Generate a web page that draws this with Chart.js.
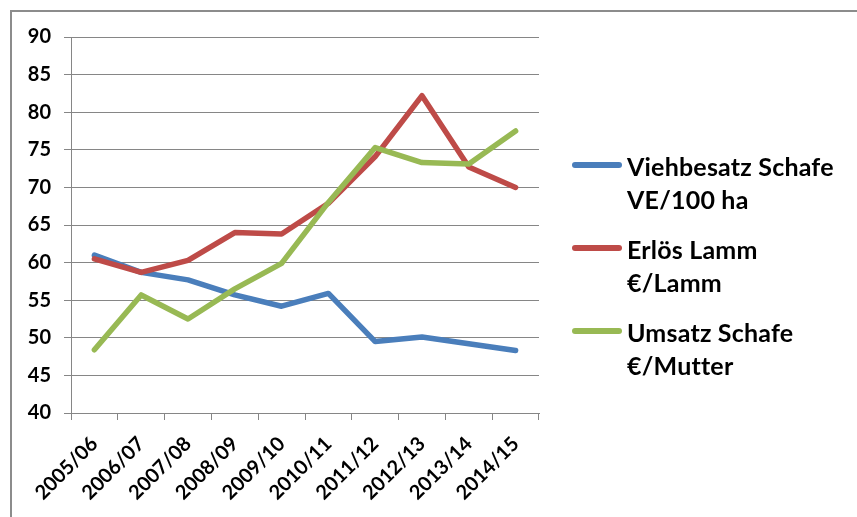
<!DOCTYPE html>
<html>
<head>
<meta charset="utf-8">
<script src="https://cdn.jsdelivr.net/npm/chart.js@4"></script>
<style>
body{margin:0;background:#fff;overflow:hidden;}
#frame{position:absolute;left:10px;top:10px;width:900px;height:600px;border-top:2px solid #8c8c8c;border-left:2px solid #8c8c8c;}
#wrap{position:absolute;left:0;top:0;width:857px;height:517px;}
#legend{position:absolute;left:572px;top:150px;}
.item{position:relative;height:83px;}
.swatch{position:absolute;left:0;top:12px;width:50px;height:6px;border-radius:3px;}
.txt{position:absolute;left:55px;top:0;white-space:nowrap;font:bold 25px Lato, sans-serif;letter-spacing:0.2px;line-height:33px;color:#000;}
</style>
</head>
<body>
<div id="frame"></div>
<div id="wrap"><canvas id="myChart" width="857" height="517"></canvas></div>
<div id="legend"></div>
<script>
// x categories (years)
const categories = ["2005/06", "2006/07", "2007/08", "2008/09", "2009/10", "2010/11", "2011/12", "2012/13", "2013/14", "2014/15"];
// series values
const viehbesatz = [61.0, 58.7, 57.7, 55.7, 54.2, 55.9, 49.5, 50.1, 49.2, 48.3];
const erloes = [60.5, 58.7, 60.3, 64.0, 63.8, 67.9, 74.1, 82.2, 72.7, 70.0];
const umsatz = [48.4, 55.7, 52.5, 56.5, 59.9, 68.0, 75.3, 73.3, 73.1, 77.5];
// legend names, two lines each
const seriesNames = [["Viehbesatz Schafe", "VE/100 ha"], ["Erlös Lamm", "€/Lamm"], ["Umsatz Schafe", "€/Mutter"]];
const colors = ["#4a7ebb", "#be4b48", "#98b954"];
// y axis
const yMin = 40, yMax = 90, yStep = 5;

const gridColor = "#868686";
const tickFont = { family: "Lato", weight: "bold", size: 20 };

function makeSet(i, values) {
	return {
		label: seriesNames[i].join(" "),
		data: values,
		borderColor: colors[i],
		backgroundColor: colors[i],
		borderWidth: 5.5,
		pointRadius: 0,
		tension: 0,
		borderCapStyle: "round",
		borderJoinStyle: "round",
		order: 3 - i, // last series on top, like excel
	};
}

let ctx = document.getElementById("myChart").getContext("2d");
var myChart = new Chart(ctx, {
	type: "line",
	data: {
		labels: categories,
		datasets: [makeSet(0, viehbesatz), makeSet(1, erloes), makeSet(2, umsatz)],
	},
	options: {
		responsive: false,
		animation: false,
		layout: { padding: { top: 37, right: 318, left: 0, bottom: 0 } },
		plugins: { legend: { display: false }, tooltip: { enabled: false } },
		scales: {
			x: {
				offset: true,
				grid: { offset: true, drawOnChartArea: false, tickLength: 7, color: gridColor },
				border: { color: gridColor },
				ticks: { maxRotation: 45, minRotation: 45, font: tickFont, color: "#000", padding: 12 },
				afterFit: (s) => { s.height = 104; },
			},
			y: {
				min: yMin,
				max: yMax,
				grid: { tickLength: 7, color: gridColor },
				border: { color: gridColor },
				ticks: { stepSize: yStep, font: tickFont, color: "#000", padding: 13 },
				afterFit: (s) => { s.width = 71; },
			},
		},
	},
});

// html legend built from the datasets
let legend = document.getElementById("legend");
myChart.data.datasets.forEach((ds, i) => {
	let item = document.createElement("div");
	item.className = "item";
	let sw = document.createElement("div");
	sw.className = "swatch";
	sw.style.background = ds.borderColor;
	let txt = document.createElement("div");
	txt.className = "txt";
	txt.innerHTML = seriesNames[i].join("<br>");
	item.appendChild(sw);
	item.appendChild(txt);
	legend.appendChild(item);
});
</script>
</body>
</html>
